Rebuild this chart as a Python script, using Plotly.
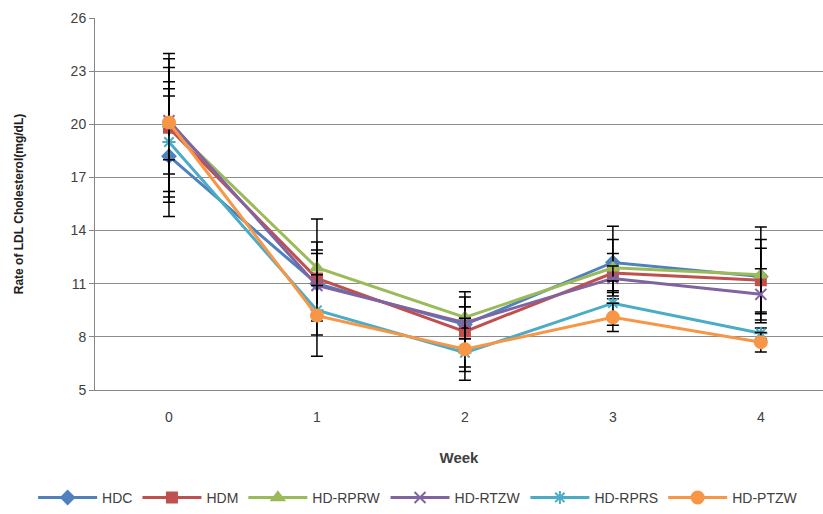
import plotly.graph_objects as go

weeks = [0, 1, 2, 3, 4]
series_names = ["HDC", "HDM", "HD-RPRW", "HD-RTZW", "HD-RPRS", "HD-PTZW"]
hdc = [18.2, 11.0, 8.7, 12.2, 11.4]
hdm = [19.8, 11.3, 8.3, 11.6, 11.2]
hd_rprw = [20.0, 11.9, 9.1, 11.9, 11.5]
hd_rtzw = [20.2, 10.9, 8.8, 11.3, 10.4]
hd_rprs = [19.0, 9.5, 7.1, 9.9, 8.2]
hd_ptzw = [20.1, 9.2, 7.3, 9.1, 7.7]

err_hdc = [3.4, 1.7, 1.55, 2.05, 2.1]
err_hdm = [3.9, 2.05, 2.25, 1.1, 1.8]
err_rprw = [2.0, 2.75, 0.6, 1.6, 2.7]
err_rtzw = [3.0, 2.0, 0.9, 0.7, 1.45]
err_rprs = [3.4, 1.4, 0.8, 1.25, 0.3]
err_ptzw = [3.9, 2.3, 1.75, 0.8, 0.55]

values = [hdc, hdm, hd_rprw, hd_rtzw, hd_rprs, hd_ptzw]
errors = [err_hdc, err_hdm, err_rprw, err_rtzw, err_rprs, err_ptzw]
colors = ["#4F81BD", "#C0504D", "#9BBB59", "#8064A2", "#4BACC6", "#F79646"]
symbols = ["diamond", "square", "triangle-up", "x-thin-open", "asterisk-open", "circle"]
sizes = [10, 10, 11, 11, 11, 12]

fig = go.Figure()
for name, v, e, c, s, sz in zip(series_names, values, errors, colors, symbols, sizes):
    fig.add_trace(go.Scatter(
        x=weeks, y=v, name=name, mode="lines+markers",
        line=dict(color=c, width=3),
        marker=dict(symbol=s, size=sz, color=c, line=dict(color=c, width=2)),
        error_y=dict(type="data", array=e, visible=True, color="black", thickness=1.5, width=6),
    ))

fig.update_layout(
    width=823, height=514,
    margin=dict(l=95, r=0, t=18, b=124),
    plot_bgcolor="white", paper_bgcolor="white",
    font=dict(family="Liberation Sans", size=13, color="#404040"),
    showlegend=True,
    legend=dict(orientation="h", x=-0.085, xanchor="left", y=-0.29, yanchor="middle",
                font=dict(size=14, color="#404040"), itemwidth=59, traceorder="normal",
                tracegroupgap=0),
    xaxis=dict(
        range=[-0.5, 4.42], tickvals=weeks, ticktext=[str(w) for w in weeks],
        showgrid=False, zeroline=False, showline=True, linecolor="#868686", linewidth=1,
        ticks="", tickfont=dict(size=14, color="#404040"), ticklabelstandoff=14,
        title=dict(text="<b>Week</b>", font=dict(size=15, color="#404040"), standoff=28),
    ),
    yaxis=dict(
        range=[5, 26], tick0=5, dtick=3,
        showgrid=True, gridcolor="#8c8c8c", gridwidth=1, zeroline=False,
        showline=True, linecolor="#868686", linewidth=1,
        ticks="outside", ticklen=5, tickcolor="#868686",
        tickfont=dict(size=14, color="#404040"),
        title=dict(text="<b>Rate of LDL Cholesterol(mg/dL)</b>", font=dict(size=12, color="#202020"), standoff=44),
    ),
)

fig.write_html("out.html")
